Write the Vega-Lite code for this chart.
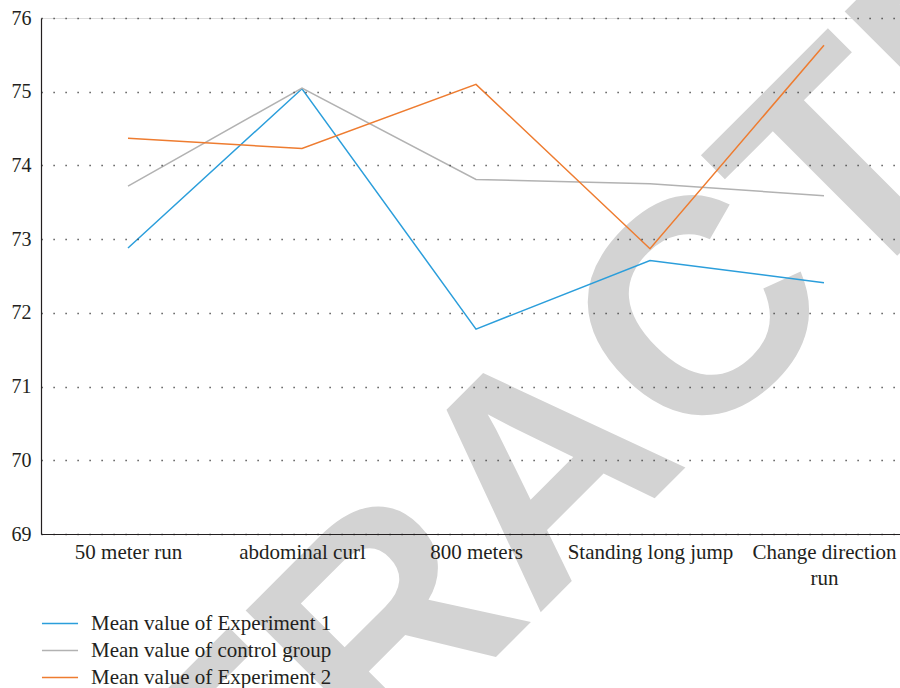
{
  "$schema": "https://vega.github.io/schema/vega-lite/v6.json",
  "width": 859,
  "height": 516,
  "autosize": {"type": "none"},
  "padding": {"left": 41, "top": 18, "right": 0, "bottom": 154},
  "background": "white",
  "datasets": {
    "means": [
      {"group": "Mean value of Experiment 1", "test": "50 meter run", "score": 72.88},
      {"group": "Mean value of Experiment 1", "test": "abdominal curl", "score": 75.04},
      {"group": "Mean value of Experiment 1", "test": "800 meters", "score": 71.78},
      {"group": "Mean value of Experiment 1", "test": "Standing long jump", "score": 72.71},
      {"group": "Mean value of Experiment 1", "test": "Change direction run", "score": 72.41},
      {"group": "Mean value of control group", "test": "50 meter run", "score": 73.72},
      {"group": "Mean value of control group", "test": "abdominal curl", "score": 75.05},
      {"group": "Mean value of control group", "test": "800 meters", "score": 73.81},
      {"group": "Mean value of control group", "test": "Standing long jump", "score": 73.75},
      {"group": "Mean value of control group", "test": "Change direction run", "score": 73.59},
      {"group": "Mean value of Experiment 2", "test": "50 meter run", "score": 74.37},
      {"group": "Mean value of Experiment 2", "test": "abdominal curl", "score": 74.23},
      {"group": "Mean value of Experiment 2", "test": "800 meters", "score": 75.1},
      {"group": "Mean value of Experiment 2", "test": "Standing long jump", "score": 72.87},
      {"group": "Mean value of Experiment 2", "test": "Change direction run", "score": 75.63}
    ],
    "stamp": [
      {"stamp": "RETRACTED", "test": "Standing long jump", "score": 69}
    ]
  },
  "layer": [
    {
      "data": {"name": "stamp"},
      "mark": {
        "type": "text",
        "font": "Liberation Sans",
        "fontWeight": "bold",
        "fontSize": 305,
        "angle": 315,
        "align": "center",
        "baseline": "alphabetic",
        "dx": -30,
        "dy": -22,
        "color": "#d3d3d3"
      },
      "encoding": {
        "x": {
          "field": "test",
          "type": "nominal",
          "scale": {
            "domain": ["50 meter run", "abdominal curl", "800 meters", "Standing long jump", "Change direction run"],
            "padding": 0.4684,
            "align": 0.5337
          }
        },
        "y": {"field": "score", "type": "quantitative"},
        "text": {"field": "stamp"}
      }
    },
    {
      "data": {"name": "means"},
      "mark": {"type": "line", "strokeWidth": 1.5},
      "encoding": {
        "x": {
          "field": "test",
          "type": "nominal",
          "sort": null,
          "scale": {
            "domain": ["50 meter run", "abdominal curl", "800 meters", "Standing long jump", "Change direction run"],
            "padding": 0.4684,
            "align": 0.5337
          },
          "axis": {
            "title": null,
            "zindex": 1,
            "grid": false,
            "ticks": false,
            "domainColor": "#231f20",
            "domainWidth": 1.2,
            "labelAngle": 0,
            "labelAlign": "center",
            "labelFont": "Liberation Serif",
            "labelFontSize": 21,
            "labelColor": "#231f20",
            "labelPadding": 7,
            "labelBaseline": "top",
            "labelLineHeight": 26,
            "labelOverlap": false,
            "labelFlush": false,
            "labelLimit": 0,
            "labelExpr": "datum.value == 'Change direction run' ? ['Change direction', 'run'] : datum.value"
          }
        },
        "y": {
          "field": "score",
          "type": "quantitative",
          "scale": {"domain": [69, 76], "nice": false, "zero": false},
          "axis": {
            "title": null,
            "zindex": 1,
            "values": [69, 70, 71, 72, 73, 74, 75, 76],
            "format": "d",
            "grid": true,
            "gridColor": "#333333",
            "gridDash": [1.2, 10.8],
            "gridWidth": 1.3,
            "ticks": false,
            "domainColor": "#231f20",
            "domainWidth": 1.2,
            "labelFont": "Liberation Serif",
            "labelFontSize": 20,
            "labelColor": "#231f20",
            "labelPadding": 10,
            "labelFlush": false
          }
        },
        "color": {
          "field": "group",
          "type": "nominal",
          "scale": {
            "domain": ["Mean value of Experiment 1", "Mean value of control group", "Mean value of Experiment 2"],
            "range": ["#2b9edb", "#b2b2b2", "#ee7c30"]
          },
          "legend": {
            "orient": "none",
            "legendX": 0,
            "legendY": 592,
            "direction": "vertical",
            "title": null,
            "padding": 0,
            "rowPadding": 0,
            "clipHeight": 27,
            "symbolType": "stroke",
            "symbolSize": 1300,
            "symbolStrokeWidth": 1.5,
            "labelFont": "Liberation Serif",
            "labelFontSize": 21,
            "labelColor": "#231f20",
            "labelOffset": 12,
            "labelLimit": 0
          }
        }
      }
    }
  ]
}
